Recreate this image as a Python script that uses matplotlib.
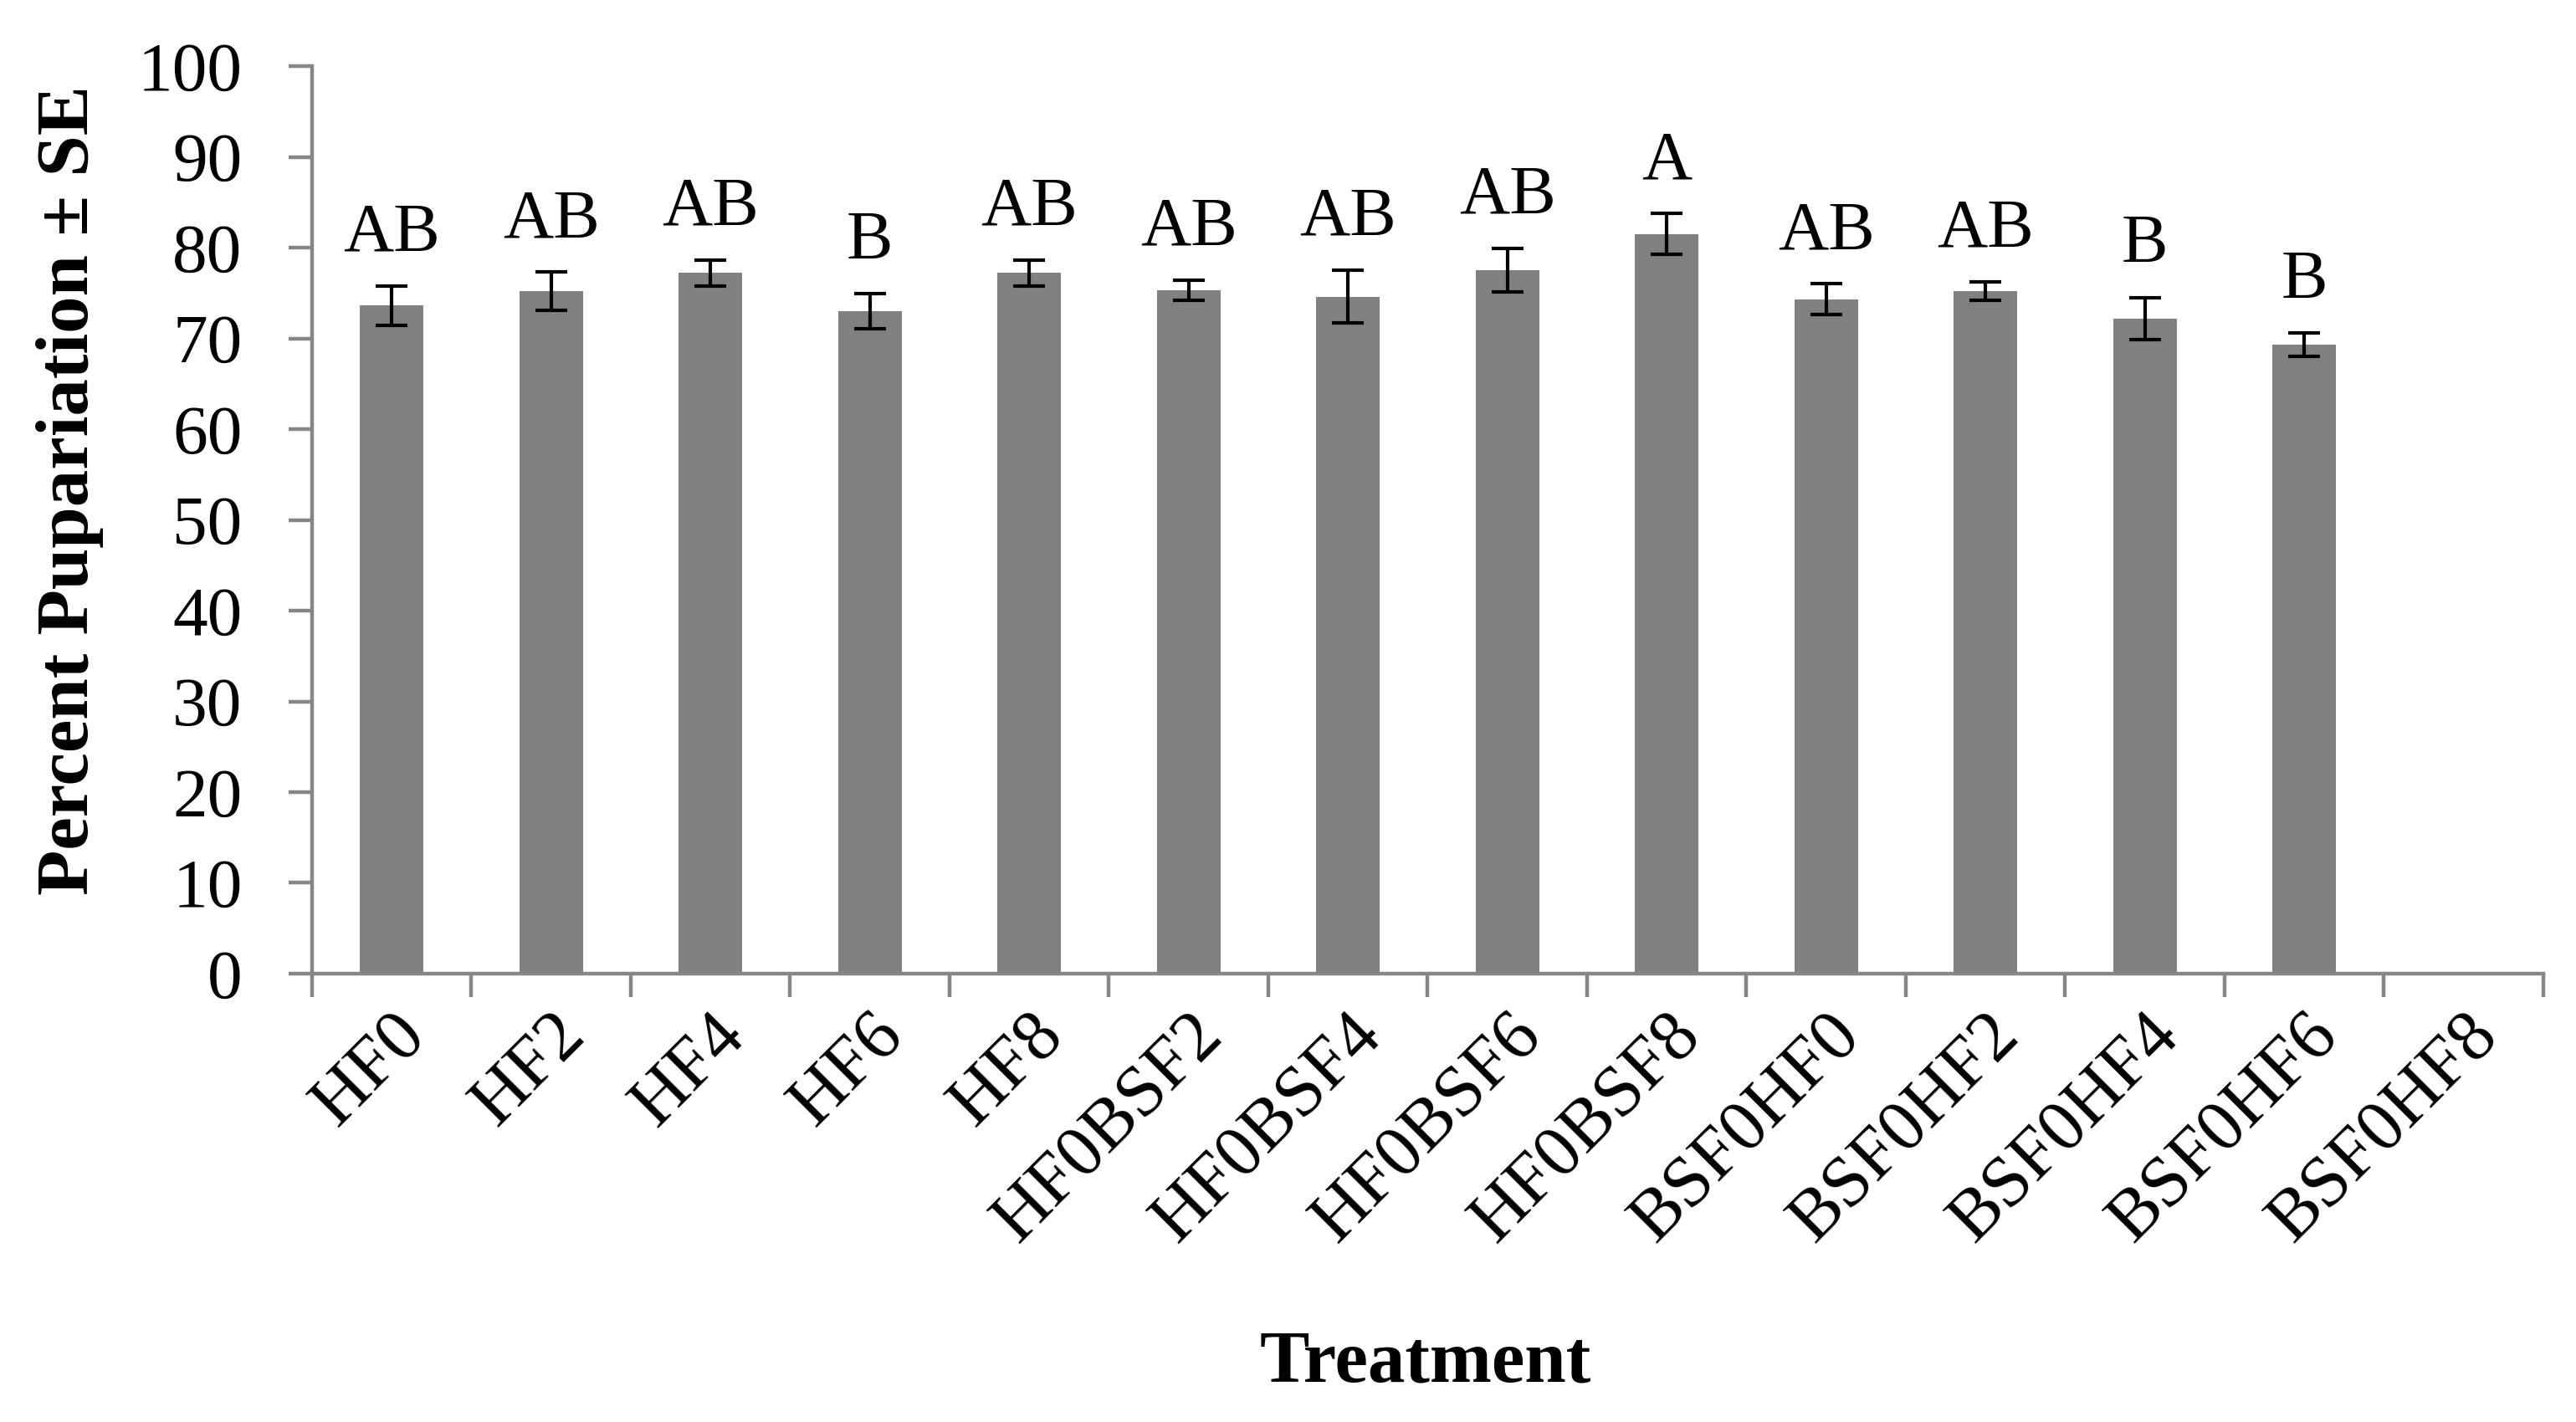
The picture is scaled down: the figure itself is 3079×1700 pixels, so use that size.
import matplotlib
matplotlib.use("Agg")
import matplotlib.pyplot as plt
import numpy as np

treatments = ["HF0", "HF2", "HF4", "HF6", "HF8", "HF0BSF2", "HF0BSF4",
              "HF0BSF6", "HF0BSF8", "BSF0HF0", "BSF0HF2", "BSF0HF4",
              "BSF0HF6", "BSF0HF8"]
# percent pupariation (mean) and standard error; BSF0HF8 has no bar
pupariation = [73.6, 75.2, 77.2, 73.0, 77.2, 75.3, 74.6,
               77.5, 81.5, 74.3, 75.2, 72.2, 69.3, np.nan]
se = [2.2, 2.1, 1.4, 1.95, 1.4, 1.1, 2.9,
      2.4, 2.25, 1.7, 1.0, 2.3, 1.3, np.nan]
letters = ["AB", "AB", "AB", "B", "AB", "AB", "AB",
           "AB", "A", "AB", "AB", "B", "B", ""]

plt.rcParams["font.family"] = ["Liberation Serif", "DejaVu Serif"]
axis_grey = "#868686"

fig = plt.figure(figsize=(15.395, 8.5), dpi=200)
ax = fig.add_axes([0.1211, 0.3153, 0.9873 - 0.1211, 0.9535 - 0.3153])

x = np.arange(len(treatments))
ax.bar(x, pupariation, width=0.4, color="#808080", zorder=2)
ax.errorbar(x, pupariation, yerr=se, fmt="none", ecolor="black",
            elinewidth=1.5, capsize=7, capthick=1.5, zorder=3)

for xi, m, s, lab in zip(x, pupariation, se, letters):
    if lab and not np.isnan(m):
        ax.text(xi, m + s + 3.9, lab, ha="center", va="baseline", fontsize=30)

ax.set_xlim(-0.5, len(treatments) - 0.5)
ax.set_ylim(0, 100)
ax.set_yticks(np.arange(0, 101, 10))
ax.set_xticks(x)
ax.set_xticklabels(treatments, rotation=45, ha="right", va="top",
                   rotation_mode="anchor", fontsize=31)
ax.set_xticks(np.arange(-0.5, len(treatments)), minor=True)
ax.tick_params(axis="x", which="major", length=0, pad=12)
ax.tick_params(axis="x", which="minor", length=10, width=1.6, color=axis_grey,
               direction="out")
ax.tick_params(axis="y", length=10, width=1.6, color=axis_grey,
               direction="out", labelsize=30, pad=20)

for side in ["top", "right"]:
    ax.spines[side].set_visible(False)
for side in ["left", "bottom"]:
    ax.spines[side].set_color(axis_grey)
    ax.spines[side].set_linewidth(1.6)

fig.text(84 / 3079, 1 - 586 / 1700, "Percent Pupariation \u00b1 SE", rotation=90,
         ha="center", va="center", fontsize=32, fontweight="bold")
fig.text(1704 / 3079, 1 - 1630 / 1700, "Treatment", ha="center", va="center",
         fontsize=32, fontweight="bold")

fig.savefig("out.png", dpi=200, facecolor="white")
